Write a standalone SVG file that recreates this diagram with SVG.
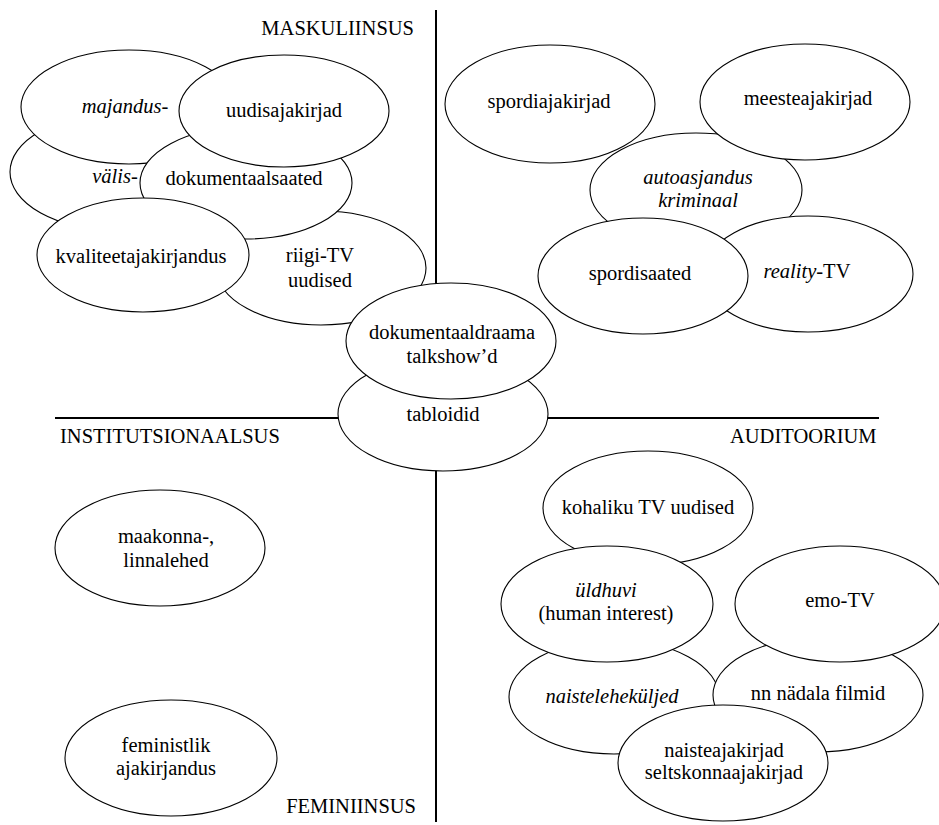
<svg xmlns="http://www.w3.org/2000/svg" width="939" height="825" viewBox="0 0 939 825">
<style>
  ellipse { fill: #fff; stroke: #000; stroke-width: 1.1; }
  text { font-family: "Liberation Serif", "Times New Roman", serif; font-size: 20.5px; fill: #000; text-anchor: middle; }
  .it { font-style: italic; }
  .lab { text-anchor: start; }
  .labe { text-anchor: end; }
  .axis { stroke: #000; stroke-width: 2; fill: none; }
</style>
<rect width="939" height="825" fill="#fff"/>
<g id="axes">
  <line class="axis" x1="436" y1="10" x2="436" y2="822"/>
  <line class="axis" x1="55" y1="418" x2="879" y2="418"/>
</g>
<g id="labels">
  <text class="labe" x="414" y="35">MASKULIINSUS</text>
  <text class="lab" x="60" y="443">INSTITUTSIONAALSUS</text>
  <text class="lab" x="730" y="443">AUDITOORIUM</text>
  <text class="labe" x="416" y="813">FEMINIINSUS</text>
</g>
<g id="valis"><ellipse cx="115" cy="172" rx="105" ry="58"/><text class="it" x="115" y="183">välis-</text></g>
<g id="majandus"><ellipse cx="129" cy="107" rx="108" ry="57"/><text class="it" x="125" y="113">majandus-</text></g>
<g id="riigi-tv"><ellipse cx="321" cy="268" rx="105" ry="57"/><text x="320" y="262">riigi-TV</text><text x="320" y="287">uudised</text></g>
<g id="dokumentaalsaated"><ellipse cx="246" cy="183" rx="106" ry="56"/><text x="244" y="185">dokumentaalsaated</text></g>
<g id="uudisajakirjad"><ellipse cx="284" cy="111" rx="105" ry="56"/><text x="284" y="117">uudisajakirjad</text></g>
<g id="kvaliteetajakirjandus"><ellipse cx="143" cy="255" rx="106" ry="57"/><text x="141" y="263">kvaliteetajakirjandus</text></g>
<g id="tabloidid"><ellipse cx="443" cy="414" rx="105" ry="57"/><text x="443" y="421">tabloidid</text></g>
<g id="dokumentaaldraama"><ellipse cx="451" cy="341" rx="105" ry="58"/><text x="452" y="339">dokumentaaldraama</text><text x="452" y="363">talkshow’d</text></g>
<g id="spordiajakirjad"><ellipse cx="550" cy="104" rx="105" ry="59"/><text x="549" y="108">spordiajakirjad</text></g>
<g id="autoasjandus"><ellipse cx="696" cy="190" rx="106" ry="57"/><text class="it" x="698" y="184">autoasjandus</text><text class="it" x="698" y="207">kriminaal</text></g>
<g id="meesteajakirjad"><ellipse cx="805" cy="102" rx="105" ry="58"/><text x="808" y="105">meesteajakirjad</text></g>
<g id="reality-tv"><ellipse cx="808" cy="274" rx="105" ry="58"/><text x="807" y="278"><tspan class="it">reality</tspan>-TV</text></g>
<g id="spordisaated"><ellipse cx="643" cy="276" rx="105" ry="58"/><text x="640" y="280">spordisaated</text></g>
<g id="maakonnalehed"><ellipse cx="160" cy="548" rx="105" ry="58"/><text x="166" y="543">maakonna-,</text><text x="166" y="567">linnalehed</text></g>
<g id="feministlik"><ellipse cx="171" cy="758" rx="106" ry="58"/><text x="166" y="752">feministlik</text><text x="166" y="775">ajakirjandus</text></g>
<g id="kohaliku-tv"><ellipse cx="648" cy="508" rx="105" ry="57"/><text x="648" y="514">kohaliku TV uudised</text></g>
<g id="naistelehekuljed"><ellipse cx="614" cy="697" rx="105" ry="57"/><text class="it" x="612" y="703">naisteleheküljed</text></g>
<g id="yldhuvi"><ellipse cx="607" cy="604" rx="106" ry="58"/><text class="it" x="606" y="597">üldhuvi</text><text x="606" y="620">(human interest)</text></g>
<g id="nadala-filmid"><ellipse cx="818" cy="695" rx="105" ry="57"/><text x="818" y="700">nn nädala filmid</text></g>
<g id="emo-tv"><ellipse cx="840" cy="604" rx="105" ry="58"/><text x="840" y="607">emo-TV</text></g>
<g id="naisteajakirjad"><ellipse cx="723" cy="763" rx="105" ry="58"/><text x="724" y="757">naisteajakirjad</text><text x="724" y="779">seltskonnaajakirjad</text></g>
</svg>
